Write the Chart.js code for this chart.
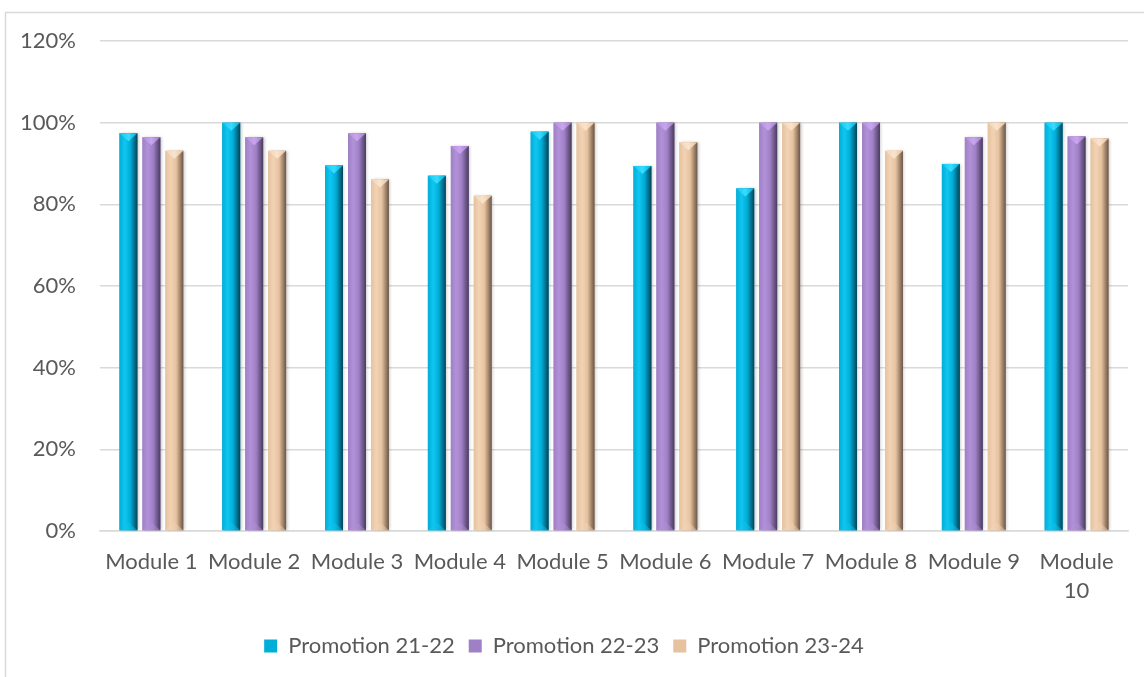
<!DOCTYPE html>
<html>
<head>
<meta charset="utf-8">
<title>Promotions par module</title>
<script src="https://cdn.jsdelivr.net/npm/chart.js@4.4.1/dist/chart.umd.min.js"></script>
<style>
    body { margin: 0; background: #fff; }
    #wrap { width: 1144px; height: 677px; }
</style>
</head>
<body>
<div id="wrap"><canvas id="chart" width="1144" height="677"></canvas></div>
<script>
// Données (en %)
const modules = ["Module 1", "Module 2", "Module 3", "Module 4", "Module 5",
    "Module 6", "Module 7", "Module 8", "Module 9", ["Module", "10"]];
const seriesNames = ["Promotion 21-22", "Promotion 22-23", "Promotion 23-24"];
const promo2122 = [97.4, 100, 89.5, 87.0, 97.8, 89.4, 83.9, 100, 89.9, 100];
const promo2223 = [96.4, 96.4, 97.4, 94.3, 100, 100, 100, 100, 96.4, 96.6];
const promo2324 = [93.1, 93.1, 86.1, 82.1, 100, 95.2, 100, 93.1, 100, 96.1];
const yTicks = [0, 20, 40, 60, 80, 100, 120];

// Palette : [base, clair, haut, sombre]
const palettes = [
    ["#00aed8", "#10c6f0", "#38dcff", "#004458"],
    ["#9f80c6", "#b291d8", "#caa4f0", "#4a3b5e"],
    ["#e6c29f", "#f1d3b4", "#fae3cc", "#6a5646"]
];

const fontFamily = "Lato, 'Liberation Sans', sans-serif";
const textColor = "#595959";
const gridColor = "#d9d9d9";

// Cadre gris clair autour du graphique
const framePlugin = {
    id: 'frame',
    beforeDraw(chart) {
        const ctx = chart.ctx;
        ctx.save();
        ctx.strokeStyle = gridColor;
        ctx.lineWidth = 1.5;
        ctx.beginPath();
        ctx.moveTo(5.5, chart.height);
        ctx.lineTo(5.5, 12.5);
        ctx.lineTo(chart.width, 12.5);
        ctx.stroke();
        ctx.restore();
    }
};

// Effet biseauté des barres (dégradé + pointe en haut)
const bevelPlugin = {
    id: 'bevel',
    afterDatasetsDraw(chart) {
        const ctx = chart.ctx;
        chart.data.datasets.forEach((ds, di) => {
            const pal = palettes[di];
            chart.getDatasetMeta(di).data.forEach((bar) => {
                const { x, y, base, width } = bar.getProps(['x', 'y', 'base', 'width'], true);
                const left = x - width / 2;
                const right = x + width / 2;
                const bev = Math.min(8, (base - y) / 2);

                ctx.save();
                ctx.shadowColor = "rgba(0,0,0,0.25)";
                ctx.shadowBlur = 3;
                ctx.shadowOffsetX = 1.5;
                const g = ctx.createLinearGradient(left, 0, right, 0);
                g.addColorStop(0, pal[0]);
                g.addColorStop(0.3, pal[1]);
                g.addColorStop(0.6, pal[0]);
                g.addColorStop(1, pal[3]);
                ctx.fillStyle = g;
                ctx.fillRect(left, y, width, base - y);
                ctx.restore();

                // pointe du haut
                ctx.save();
                const gt = ctx.createLinearGradient(left, 0, right, 0);
                gt.addColorStop(0, pal[1]);
                gt.addColorStop(0.5, pal[2]);
                gt.addColorStop(1, pal[0]);
                ctx.fillStyle = gt;
                ctx.beginPath();
                ctx.moveTo(left, y);
                ctx.lineTo(right, y);
                ctx.lineTo(x, y + bev);
                ctx.closePath();
                ctx.fill();

                // biseau du bas
                ctx.globalAlpha = 0.45;
                ctx.fillStyle = pal[1];
                ctx.beginPath();
                ctx.moveTo(left, base);
                ctx.lineTo(right, base);
                ctx.lineTo(x, base - bev);
                ctx.closePath();
                ctx.fill();
                ctx.restore();
            });
        });
    }
};

const ctx = document.getElementById('chart').getContext('2d');
new Chart(ctx, {
    type: 'bar',
    data: {
        labels: modules,
        datasets: [promo2122, promo2223, promo2324].map((vals, i) => ({
            label: seriesNames[i],
            data: vals,
            backgroundColor: palettes[i][0],
            borderWidth: 0,
            categoryPercentage: 0.67,
            barPercentage: 0.78
        }))
    },
    options: {
        responsive: false,
        animation: false,
        layout: { padding: { top: 41, right: 16, bottom: 10, left: 0 } },
        plugins: {
            tooltip: { enabled: false },
            legend: {
                position: 'bottom',
                labels: {
                    boxWidth: 13,
                    boxHeight: 13,
                    padding: 14,
                    color: textColor,
                    font: { family: fontFamily, size: 22 }
                }
            }
        },
        scales: {
            x: {
                grid: { display: false, drawTicks: false },
                border: { display: true, color: gridColor, width: 1.5 },
                ticks: {
                    color: textColor,
                    padding: 17,
                    maxRotation: 0,
                    autoSkip: false,
                    font: { family: fontFamily, size: 22, lineHeight: 1.3 }
                },
                afterFit(scale) { scale.height = 90; }
            },
            y: {
                min: 0,
                max: 120,
                afterBuildTicks(scale) { scale.ticks = yTicks.map(v => ({ value: v })); },
                grid: { color: gridColor, lineWidth: 1.5, drawTicks: false },
                border: { display: false },
                ticks: {
                    color: textColor,
                    padding: 24,
                    font: { family: fontFamily, size: 22 },
                    callback: (v) => v + '%'
                },
                afterFit(scale) { scale.width = 100; }
            }
        }
    },
    plugins: [framePlugin, bevelPlugin]
});
</script>
</body>
</html>
